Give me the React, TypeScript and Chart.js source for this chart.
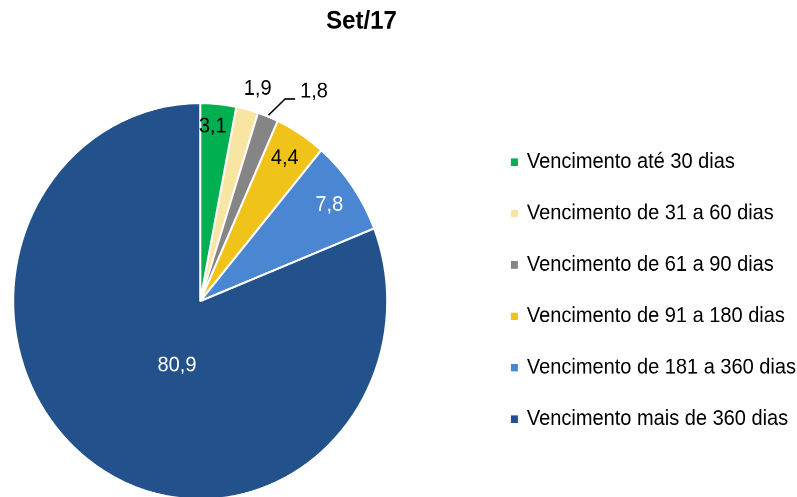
import React, { useEffect, useRef } from 'react';
import { Chart, registerables } from 'chart.js';

Chart.register(...registerables);

const TITLE = 'Set/17';
const categories = [
  'Vencimento até 30 dias',
  'Vencimento de 31 a 60 dias',
  'Vencimento de 61 a 90 dias',
  'Vencimento de 91 a 180 dias',
  'Vencimento de 181 a 360 dias',
  'Vencimento mais de 360 dias',
];
const values = [3.1, 1.9, 1.8, 4.4, 7.8, 80.9];
const valueLabels = ['3,1', '1,9', '1,8', '4,4', '7,8', '80,9'];

// styles
const colors = ['#00B050', '#F8E5A1', '#858585', '#F0C31B', '#4A86D2', '#22518B'];
const labelColors = ['#000000', '#000000', '#000000', '#000000', '#ffffff', '#ffffff'];
const labelRadius = [0.883, 1.115, 1.117, 0.851, 0.844, 0.349];
const labelAngleFrac = [0.389, 0.705, 0.92, 0.478, 0.517, 0.454];
const hasLeader = [false, false, true, false, false, false];

const FONT = '"Liberation Sans", Arial, Helvetica, sans-serif';
// canvas is drawn larger than the view and shifted, then stretched vertically
const OFFSET_X = 83;
const CANVAS_W = 889;
const CANVAS_H = 538;
const VIEW_W = 797;
const VIEW_H = 497;
const SCALE_Y = 497 / 469;

const sliceLabels = {
  id: 'sliceLabels',
  afterDatasetsDraw(chart: any) {
    const meta = chart.getDatasetMeta(0);
    const ctx = chart.ctx as CanvasRenderingContext2D;
    ctx.save();
    ctx.font = `20px ${FONT}`;
    ctx.textBaseline = 'middle';
    meta.data.forEach((arc: any, i: number) => {
      const { x, y, startAngle, endAngle, outerRadius } = arc.getProps(
        ['x', 'y', 'startAngle', 'endAngle', 'outerRadius'],
        true
      );
      const a = startAngle + (endAngle - startAngle) * labelAngleFrac[i];
      const d = outerRadius * labelRadius[i];
      const px = x + Math.cos(a) * d;
      const py = y + Math.sin(a) * d;
      ctx.fillStyle = labelColors[i];
      if (hasLeader[i]) {
        const mid = (startAngle + endAngle) / 2;
        const sx = x + Math.cos(mid) * outerRadius * 1.007;
        const sy = y + Math.sin(mid) * outerRadius * 1.007;
        ctx.strokeStyle = '#000000';
        ctx.lineWidth = 1.5;
        ctx.beginPath();
        ctx.moveTo(sx, sy);
        ctx.lineTo(px, py);
        ctx.lineTo(px + 10, py);
        ctx.stroke();
        ctx.textAlign = 'left';
        ctx.fillText(valueLabels[i], px + 15, py - 7);
      } else {
        ctx.textAlign = 'center';
        ctx.fillText(valueLabels[i], px, py);
      }
    });
    ctx.restore();
  },
};

export default function App() {
  const ref = useRef<HTMLCanvasElement>(null);
  useEffect(() => {
    document.body.style.margin = '0';
    const baseGen = (Chart as any).overrides.doughnut.plugins.legend.labels.generateLabels;
    const chart = new Chart(ref.current!, {
      type: 'pie',
      data: {
        labels: categories,
        datasets: [
          {
            data: values,
            backgroundColor: colors,
            borderColor: '#ffffff',
            borderWidth: 2,
            radius: 187,
          } as any,
        ],
      },
      options: {
        animation: false,
        responsive: true,
        maintainAspectRatio: false,
        devicePixelRatio: 2,
        events: [],
        layout: { padding: { left: 0, right: 0, top: 10.6, bottom: 0 } },
        plugins: {
          title: {
            display: true,
            text: TITLE,
            color: '#000000',
            font: { family: FONT, size: 24, weight: 'bold', lineHeight: 0.825 },
            padding: { top: 0, bottom: 0 },
          },
          legend: {
            position: 'right',
            align: 'center',
            labels: {
              boxWidth: 5,
              boxHeight: 5,
              padding: 28.5,
              color: '#000000',
              font: { family: FONT, size: 20 },
              generateLabels: (c: any) =>
                baseGen(c).map((l: any) => ({ ...l, strokeStyle: l.fillStyle, lineWidth: 2 })),
            },
          },
          tooltip: { enabled: false },
        },
      } as any,
      plugins: [sliceLabels],
    });
    return () => chart.destroy();
  }, []);

  return (
    <div
      style={{
        position: 'fixed',
        left: 0,
        top: 0,
        width: VIEW_W,
        height: VIEW_H,
        overflow: 'hidden',
        background: '#ffffff',
      }}
    >
      <div
        style={{
          position: 'absolute',
          left: -OFFSET_X,
          top: 0,
          width: CANVAS_W,
          height: CANVAS_H,
          transform: `scaleY(${SCALE_Y})`,
          transformOrigin: '0 0',
        }}
      >
        <canvas ref={ref} />
      </div>
    </div>
  );
}
